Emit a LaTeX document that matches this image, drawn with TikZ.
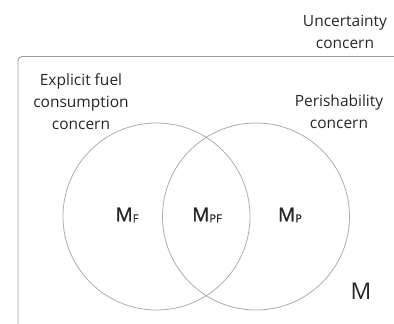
\documentclass[tikz,border=0pt]{standalone}
\usepackage{fontspec}
\setmainfont{Open Sans}
\newfontfamily\setfont[AutoFakeBold=1.2]{Open Sans}
\begin{document}
\begin{tikzpicture}[x=1pt,y=-1pt,
  label/.style={text=black!85, align=center, inner sep=0pt,
    font=\fontsize{15.5}{22}\selectfont},
  setname/.style={text=black!85, inner sep=0pt,
    font=\setfont\bfseries\fontsize{19}{19}\selectfont},
  setcircle/.style={circle, draw=black!32, line width=0.8pt,
    minimum size=187pt, inner sep=0pt},
  universe/.style={draw=black!38, line width=0.9pt, rounded corners=4pt}]
\newcommand{\subtxt}[1]{\raisebox{-1pt}{\fontsize{11}{11}\selectfont #1}}
\useasboundingbox (0,0) rectangle (394,324);
\clip (0,0) rectangle (394,324);
% universe set M
\draw[universe] (410,56.5) -- (18,56.5) -- (18,340);
% the two concern sets
\node[setcircle] (cf) at (156.5,216.5) {};
\node[setcircle] (cp) at (256,216.5) {};
% set names
\node[setname] (mf)  at (127,215) {M\subtxt{F}};
\node[setname] (mpf) at (207,215) {M\subtxt{PF}};
\node[setname] (mp)  at (290,215) {M\subtxt{P}};
\node[label, font=\fontsize{23}{23}\selectfont] (m) at (361,291) {M};
% concern labels
\node[label] (fuel) at (81,102) {Explicit fuel\\consumption\\concern};
\node[label] (peri) at (339,112) {Perishability\\concern};
\node[label] (unc)  at (345,32) {Uncertainty\\concern};
\end{tikzpicture}
\end{document}
